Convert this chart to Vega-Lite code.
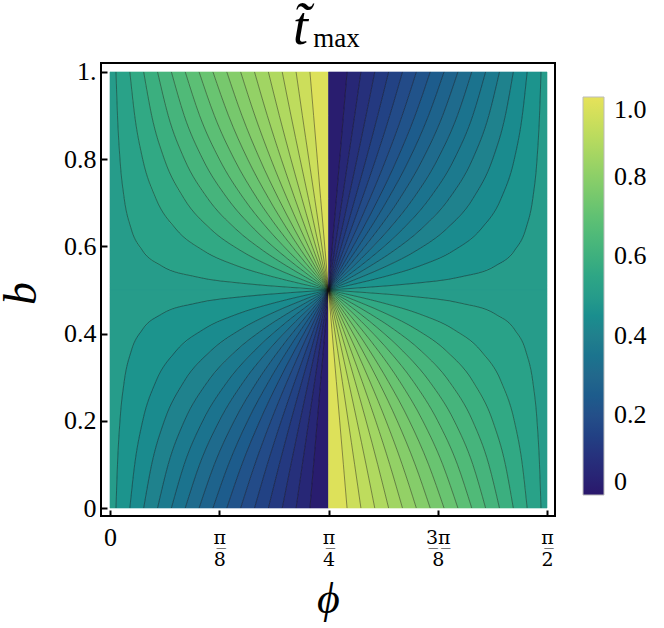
{
"$schema":"https://vega.github.io/schema/vega-lite/v6.json",
"width":454,"height":453,"autosize":"none",
"padding":{"left":101,"top":63,"right":109,"bottom":112},
"background":"white",
"title":{"text":"t\u0303","subtitle":"\u200b\u00a0\u00a0\u00a0max","anchor":"middle","align":"left","dx":-35,"offset":4,"font":"Liberation Serif","fontSize":54,"fontStyle":"italic","fontWeight":"normal","color":"black","subtitleFont":"Liberation Serif","subtitleFontSize":27,"subtitleColor":"black","subtitlePadding":-29},
"datasets":{
"vUL":[{"j":-1,"v":0.5},{"j":0,"v":0.5296},{"j":1,"v":0.5613},{"j":2,"v":0.593},{"j":3,"v":0.6247},{"j":4,"v":0.6564},{"j":5,"v":0.6881},{"j":6,"v":0.7198},{"j":7,"v":0.7515},{"j":8,"v":0.7832},{"j":9,"v":0.8149},{"j":10,"v":0.8466},{"j":11,"v":0.8783},{"j":12,"v":0.91},{"j":13,"v":0.9417},{"j":14,"v":0.9788},{"j":15,"v":1}],
"vLL":[{"j":-1,"v":0.5},{"j":0,"v":0.4704},{"j":1,"v":0.4387},{"j":2,"v":0.407},{"j":3,"v":0.3753},{"j":4,"v":0.3436},{"j":5,"v":0.3119},{"j":6,"v":0.2802},{"j":7,"v":0.2485},{"j":8,"v":0.2168},{"j":9,"v":0.1851},{"j":10,"v":0.1534},{"j":11,"v":0.1217},{"j":12,"v":0.09},{"j":13,"v":0.0583},{"j":14,"v":0.0212},{"j":15,"v":0}],
"vUR":[{"j":15,"v":0.0212},{"j":14,"v":0.0583},{"j":13,"v":0.09},{"j":12,"v":0.1217},{"j":11,"v":0.1534},{"j":10,"v":0.1851},{"j":9,"v":0.2168},{"j":8,"v":0.2485},{"j":7,"v":0.2802},{"j":6,"v":0.3119},{"j":5,"v":0.3436},{"j":4,"v":0.3753},{"j":3,"v":0.407},{"j":2,"v":0.4387},{"j":1,"v":0.4704},{"j":0,"v":0.5},{"j":-1,"v":0.5}],
"vLR":[{"j":15,"v":0.9788},{"j":14,"v":0.9417},{"j":13,"v":0.91},{"j":12,"v":0.8783},{"j":11,"v":0.8466},{"j":10,"v":0.8149},{"j":9,"v":0.7832},{"j":8,"v":0.7515},{"j":7,"v":0.7198},{"j":6,"v":0.6881},{"j":5,"v":0.6564},{"j":4,"v":0.6247},{"j":3,"v":0.593},{"j":2,"v":0.5613},{"j":1,"v":0.5296},{"j":0,"v":0.5},{"j":-1,"v":0.5}],
"UL":[
{"j":-1,"b":1,"p":0},{"j":-1,"b":0.9,"p":0},{"j":-1,"b":0.8,"p":0},{"j":-1,"b":0.71,"p":0},{"j":-1,"b":0.64,"p":0},{"j":-1,"b":0.59,"p":0},{"j":-1,"b":0.555,"p":0},{"j":-1,"b":0.53,"p":0},{"j":-1,"b":0.515,"p":0},{"j":-1,"b":0.506,"p":0},{"j":-1,"b":0.5,"p":0},
{"j":0,"b":1,"p":0.0215},{"j":0,"b":0.9,"p":0.0269},{"j":0,"b":0.8,"p":0.0358},{"j":0,"b":0.71,"p":0.051},{"j":0,"b":0.64,"p":0.0762},{"j":0,"b":0.59,"p":0.1173},{"j":0,"b":0.555,"p":0.1863},{"j":0,"b":0.53,"p":0.3109},{"j":0,"b":0.515,"p":0.4808},{"j":0,"b":0.506,"p":0.6493},{"j":0,"b":0.5,"p":0.7854},
{"j":1,"b":1,"p":0.0713},{"j":1,"b":0.9,"p":0.0888},{"j":1,"b":0.8,"p":0.1175},{"j":1,"b":0.71,"p":0.1647},{"j":1,"b":0.64,"p":0.2369},{"j":1,"b":0.59,"p":0.3367},{"j":1,"b":0.555,"p":0.4585},{"j":1,"b":0.53,"p":0.5875},{"j":1,"b":0.515,"p":0.6824},{"j":1,"b":0.506,"p":0.7437},{"j":1,"b":0.5,"p":0.7854},
{"j":2,"b":1,"p":0.1211},{"j":2,"b":0.9,"p":0.1498},{"j":2,"b":0.8,"p":0.1953},{"j":2,"b":0.71,"p":0.2658},{"j":2,"b":0.64,"p":0.3614},{"j":2,"b":0.59,"p":0.4706},{"j":2,"b":0.555,"p":0.5759},{"j":2,"b":0.53,"p":0.6662},{"j":2,"b":0.515,"p":0.7249},{"j":2,"b":0.506,"p":0.7611},{"j":2,"b":0.5,"p":0.7854},
{"j":3,"b":1,"p":0.1709},{"j":3,"b":0.9,"p":0.2092},{"j":3,"b":0.8,"p":0.2675},{"j":3,"b":0.71,"p":0.3513},{"j":3,"b":0.64,"p":0.4519},{"j":3,"b":0.59,"p":0.5511},{"j":3,"b":0.555,"p":0.6354},{"j":3,"b":0.53,"p":0.7018},{"j":3,"b":0.515,"p":0.7433},{"j":3,"b":0.506,"p":0.7685},{"j":3,"b":0.5,"p":0.7854},
{"j":4,"b":1,"p":0.2207},{"j":4,"b":0.9,"p":0.2667},{"j":4,"b":0.8,"p":0.3335},{"j":4,"b":0.71,"p":0.4221},{"j":4,"b":0.64,"p":0.518},{"j":4,"b":0.59,"p":0.6034},{"j":4,"b":0.555,"p":0.671},{"j":4,"b":0.53,"p":0.7222},{"j":4,"b":0.515,"p":0.7537},{"j":4,"b":0.506,"p":0.7727},{"j":4,"b":0.5,"p":0.7854},
{"j":5,"b":1,"p":0.2705},{"j":5,"b":0.9,"p":0.3221},{"j":5,"b":0.8,"p":0.393},{"j":5,"b":0.71,"p":0.4803},{"j":5,"b":0.64,"p":0.5673},{"j":5,"b":0.59,"p":0.6398},{"j":5,"b":0.555,"p":0.6948},{"j":5,"b":0.53,"p":0.7356},{"j":5,"b":0.515,"p":0.7604},{"j":5,"b":0.506,"p":0.7754},{"j":5,"b":0.5,"p":0.7854},
{"j":6,"b":1,"p":0.3203},{"j":6,"b":0.9,"p":0.3751},{"j":6,"b":0.8,"p":0.4465},{"j":6,"b":0.71,"p":0.5289},{"j":6,"b":0.64,"p":0.6057},{"j":6,"b":0.59,"p":0.6669},{"j":6,"b":0.555,"p":0.7122},{"j":6,"b":0.53,"p":0.7452},{"j":6,"b":0.515,"p":0.7653},{"j":6,"b":0.506,"p":0.7774},{"j":6,"b":0.5,"p":0.7854},
{"j":7,"b":1,"p":0.3701},{"j":7,"b":0.9,"p":0.4259},{"j":7,"b":0.8,"p":0.4948},{"j":7,"b":0.71,"p":0.5703},{"j":7,"b":0.64,"p":0.6367},{"j":7,"b":0.59,"p":0.6881},{"j":7,"b":0.555,"p":0.7255},{"j":7,"b":0.53,"p":0.7526},{"j":7,"b":0.515,"p":0.769},{"j":7,"b":0.506,"p":0.7788},{"j":7,"b":0.5,"p":0.7854},
{"j":8,"b":1,"p":0.4199},{"j":8,"b":0.9,"p":0.4742},{"j":8,"b":0.8,"p":0.5386},{"j":8,"b":0.71,"p":0.6053},{"j":8,"b":0.64,"p":0.6624},{"j":8,"b":0.59,"p":0.7054},{"j":8,"b":0.555,"p":0.7362},{"j":8,"b":0.53,"p":0.7585},{"j":8,"b":0.515,"p":0.772},{"j":8,"b":0.506,"p":0.78},{"j":8,"b":0.5,"p":0.7854},
{"j":9,"b":1,"p":0.4697},{"j":9,"b":0.9,"p":0.5207},{"j":9,"b":0.8,"p":0.5786},{"j":9,"b":0.71,"p":0.6364},{"j":9,"b":0.64,"p":0.6844},{"j":9,"b":0.59,"p":0.72},{"j":9,"b":0.555,"p":0.7452},{"j":9,"b":0.53,"p":0.7634},{"j":9,"b":0.515,"p":0.7744},{"j":9,"b":0.506,"p":0.781},{"j":9,"b":0.5,"p":0.7854},
{"j":10,"b":1,"p":0.5195},{"j":10,"b":0.9,"p":0.5654},{"j":10,"b":0.8,"p":0.6157},{"j":10,"b":0.71,"p":0.6643},{"j":10,"b":0.64,"p":0.7038},{"j":10,"b":0.59,"p":0.7326},{"j":10,"b":0.555,"p":0.7531},{"j":10,"b":0.53,"p":0.7678},{"j":10,"b":0.515,"p":0.7766},{"j":10,"b":0.506,"p":0.7819},{"j":10,"b":0.5,"p":0.7854},
{"j":11,"b":1,"p":0.5693},{"j":11,"b":0.9,"p":0.6086},{"j":11,"b":0.8,"p":0.6503},{"j":11,"b":0.71,"p":0.6897},{"j":11,"b":0.64,"p":0.7212},{"j":11,"b":0.59,"p":0.744},{"j":11,"b":0.555,"p":0.76},{"j":11,"b":0.53,"p":0.7716},{"j":11,"b":0.515,"p":0.7785},{"j":11,"b":0.506,"p":0.7826},{"j":11,"b":0.5,"p":0.7854},
{"j":12,"b":1,"p":0.6191},{"j":12,"b":0.9,"p":0.6505},{"j":12,"b":0.8,"p":0.6832},{"j":12,"b":0.71,"p":0.7134},{"j":12,"b":0.64,"p":0.7372},{"j":12,"b":0.59,"p":0.7543},{"j":12,"b":0.555,"p":0.7664},{"j":12,"b":0.53,"p":0.775},{"j":12,"b":0.515,"p":0.7802},{"j":12,"b":0.506,"p":0.7833},{"j":12,"b":0.5,"p":0.7854},
{"j":13,"b":1,"p":0.6689},{"j":13,"b":0.9,"p":0.6915},{"j":13,"b":0.8,"p":0.7147},{"j":13,"b":0.71,"p":0.7357},{"j":13,"b":0.64,"p":0.7522},{"j":13,"b":0.59,"p":0.764},{"j":13,"b":0.555,"p":0.7724},{"j":13,"b":0.53,"p":0.7783},{"j":13,"b":0.515,"p":0.7818},{"j":13,"b":0.506,"p":0.784},{"j":13,"b":0.5,"p":0.7854},
{"j":14,"b":1,"p":0.7187},{"j":14,"b":0.9,"p":0.7319},{"j":14,"b":0.8,"p":0.7452},{"j":14,"b":0.71,"p":0.7572},{"j":14,"b":0.64,"p":0.7666},{"j":14,"b":0.59,"p":0.7733},{"j":14,"b":0.555,"p":0.778},{"j":14,"b":0.53,"p":0.7814},{"j":14,"b":0.515,"p":0.7834},{"j":14,"b":0.506,"p":0.7846},{"j":14,"b":0.5,"p":0.7854},
{"j":15,"b":1,"p":0.7854},{"j":15,"b":0.9,"p":0.7854},{"j":15,"b":0.8,"p":0.7854},{"j":15,"b":0.71,"p":0.7854},{"j":15,"b":0.64,"p":0.7854},{"j":15,"b":0.59,"p":0.7854},{"j":15,"b":0.555,"p":0.7854},{"j":15,"b":0.53,"p":0.7854},{"j":15,"b":0.515,"p":0.7854},{"j":15,"b":0.506,"p":0.7854},{"j":15,"b":0.5,"p":0.7854}
],
"LL":[
{"j":-1,"b":0,"p":0},{"j":-1,"b":0.1,"p":0},{"j":-1,"b":0.2,"p":0},{"j":-1,"b":0.29,"p":0},{"j":-1,"b":0.36,"p":0},{"j":-1,"b":0.41,"p":0},{"j":-1,"b":0.445,"p":0},{"j":-1,"b":0.47,"p":0},{"j":-1,"b":0.485,"p":0},{"j":-1,"b":0.494,"p":0},{"j":-1,"b":0.5,"p":0},
{"j":0,"b":0,"p":0.0215},{"j":0,"b":0.1,"p":0.0269},{"j":0,"b":0.2,"p":0.0358},{"j":0,"b":0.29,"p":0.051},{"j":0,"b":0.36,"p":0.0762},{"j":0,"b":0.41,"p":0.1173},{"j":0,"b":0.445,"p":0.1863},{"j":0,"b":0.47,"p":0.3109},{"j":0,"b":0.485,"p":0.4808},{"j":0,"b":0.494,"p":0.6493},{"j":0,"b":0.5,"p":0.7854},
{"j":1,"b":0,"p":0.0713},{"j":1,"b":0.1,"p":0.0888},{"j":1,"b":0.2,"p":0.1175},{"j":1,"b":0.29,"p":0.1647},{"j":1,"b":0.36,"p":0.2369},{"j":1,"b":0.41,"p":0.3367},{"j":1,"b":0.445,"p":0.4585},{"j":1,"b":0.47,"p":0.5875},{"j":1,"b":0.485,"p":0.6824},{"j":1,"b":0.494,"p":0.7437},{"j":1,"b":0.5,"p":0.7854},
{"j":2,"b":0,"p":0.1211},{"j":2,"b":0.1,"p":0.1498},{"j":2,"b":0.2,"p":0.1953},{"j":2,"b":0.29,"p":0.2658},{"j":2,"b":0.36,"p":0.3614},{"j":2,"b":0.41,"p":0.4706},{"j":2,"b":0.445,"p":0.5759},{"j":2,"b":0.47,"p":0.6662},{"j":2,"b":0.485,"p":0.7249},{"j":2,"b":0.494,"p":0.7611},{"j":2,"b":0.5,"p":0.7854},
{"j":3,"b":0,"p":0.1709},{"j":3,"b":0.1,"p":0.2092},{"j":3,"b":0.2,"p":0.2675},{"j":3,"b":0.29,"p":0.3513},{"j":3,"b":0.36,"p":0.4519},{"j":3,"b":0.41,"p":0.5511},{"j":3,"b":0.445,"p":0.6354},{"j":3,"b":0.47,"p":0.7018},{"j":3,"b":0.485,"p":0.7433},{"j":3,"b":0.494,"p":0.7685},{"j":3,"b":0.5,"p":0.7854},
{"j":4,"b":0,"p":0.2207},{"j":4,"b":0.1,"p":0.2667},{"j":4,"b":0.2,"p":0.3335},{"j":4,"b":0.29,"p":0.4221},{"j":4,"b":0.36,"p":0.518},{"j":4,"b":0.41,"p":0.6034},{"j":4,"b":0.445,"p":0.671},{"j":4,"b":0.47,"p":0.7222},{"j":4,"b":0.485,"p":0.7537},{"j":4,"b":0.494,"p":0.7727},{"j":4,"b":0.5,"p":0.7854},
{"j":5,"b":0,"p":0.2705},{"j":5,"b":0.1,"p":0.3221},{"j":5,"b":0.2,"p":0.393},{"j":5,"b":0.29,"p":0.4803},{"j":5,"b":0.36,"p":0.5673},{"j":5,"b":0.41,"p":0.6398},{"j":5,"b":0.445,"p":0.6948},{"j":5,"b":0.47,"p":0.7356},{"j":5,"b":0.485,"p":0.7604},{"j":5,"b":0.494,"p":0.7754},{"j":5,"b":0.5,"p":0.7854},
{"j":6,"b":0,"p":0.3203},{"j":6,"b":0.1,"p":0.3751},{"j":6,"b":0.2,"p":0.4465},{"j":6,"b":0.29,"p":0.5289},{"j":6,"b":0.36,"p":0.6057},{"j":6,"b":0.41,"p":0.6669},{"j":6,"b":0.445,"p":0.7122},{"j":6,"b":0.47,"p":0.7452},{"j":6,"b":0.485,"p":0.7653},{"j":6,"b":0.494,"p":0.7774},{"j":6,"b":0.5,"p":0.7854},
{"j":7,"b":0,"p":0.3701},{"j":7,"b":0.1,"p":0.4259},{"j":7,"b":0.2,"p":0.4948},{"j":7,"b":0.29,"p":0.5703},{"j":7,"b":0.36,"p":0.6367},{"j":7,"b":0.41,"p":0.6881},{"j":7,"b":0.445,"p":0.7255},{"j":7,"b":0.47,"p":0.7526},{"j":7,"b":0.485,"p":0.769},{"j":7,"b":0.494,"p":0.7788},{"j":7,"b":0.5,"p":0.7854},
{"j":8,"b":0,"p":0.4199},{"j":8,"b":0.1,"p":0.4742},{"j":8,"b":0.2,"p":0.5386},{"j":8,"b":0.29,"p":0.6053},{"j":8,"b":0.36,"p":0.6624},{"j":8,"b":0.41,"p":0.7054},{"j":8,"b":0.445,"p":0.7362},{"j":8,"b":0.47,"p":0.7585},{"j":8,"b":0.485,"p":0.772},{"j":8,"b":0.494,"p":0.78},{"j":8,"b":0.5,"p":0.7854},
{"j":9,"b":0,"p":0.4697},{"j":9,"b":0.1,"p":0.5207},{"j":9,"b":0.2,"p":0.5786},{"j":9,"b":0.29,"p":0.6364},{"j":9,"b":0.36,"p":0.6844},{"j":9,"b":0.41,"p":0.72},{"j":9,"b":0.445,"p":0.7452},{"j":9,"b":0.47,"p":0.7634},{"j":9,"b":0.485,"p":0.7744},{"j":9,"b":0.494,"p":0.781},{"j":9,"b":0.5,"p":0.7854},
{"j":10,"b":0,"p":0.5195},{"j":10,"b":0.1,"p":0.5654},{"j":10,"b":0.2,"p":0.6157},{"j":10,"b":0.29,"p":0.6643},{"j":10,"b":0.36,"p":0.7038},{"j":10,"b":0.41,"p":0.7326},{"j":10,"b":0.445,"p":0.7531},{"j":10,"b":0.47,"p":0.7678},{"j":10,"b":0.485,"p":0.7766},{"j":10,"b":0.494,"p":0.7819},{"j":10,"b":0.5,"p":0.7854},
{"j":11,"b":0,"p":0.5693},{"j":11,"b":0.1,"p":0.6086},{"j":11,"b":0.2,"p":0.6503},{"j":11,"b":0.29,"p":0.6897},{"j":11,"b":0.36,"p":0.7212},{"j":11,"b":0.41,"p":0.744},{"j":11,"b":0.445,"p":0.76},{"j":11,"b":0.47,"p":0.7716},{"j":11,"b":0.485,"p":0.7785},{"j":11,"b":0.494,"p":0.7826},{"j":11,"b":0.5,"p":0.7854},
{"j":12,"b":0,"p":0.6191},{"j":12,"b":0.1,"p":0.6505},{"j":12,"b":0.2,"p":0.6832},{"j":12,"b":0.29,"p":0.7134},{"j":12,"b":0.36,"p":0.7372},{"j":12,"b":0.41,"p":0.7543},{"j":12,"b":0.445,"p":0.7664},{"j":12,"b":0.47,"p":0.775},{"j":12,"b":0.485,"p":0.7802},{"j":12,"b":0.494,"p":0.7833},{"j":12,"b":0.5,"p":0.7854},
{"j":13,"b":0,"p":0.6689},{"j":13,"b":0.1,"p":0.6915},{"j":13,"b":0.2,"p":0.7147},{"j":13,"b":0.29,"p":0.7357},{"j":13,"b":0.36,"p":0.7522},{"j":13,"b":0.41,"p":0.764},{"j":13,"b":0.445,"p":0.7724},{"j":13,"b":0.47,"p":0.7783},{"j":13,"b":0.485,"p":0.7818},{"j":13,"b":0.494,"p":0.784},{"j":13,"b":0.5,"p":0.7854},
{"j":14,"b":0,"p":0.7187},{"j":14,"b":0.1,"p":0.7319},{"j":14,"b":0.2,"p":0.7452},{"j":14,"b":0.29,"p":0.7572},{"j":14,"b":0.36,"p":0.7666},{"j":14,"b":0.41,"p":0.7733},{"j":14,"b":0.445,"p":0.778},{"j":14,"b":0.47,"p":0.7814},{"j":14,"b":0.485,"p":0.7834},{"j":14,"b":0.494,"p":0.7846},{"j":14,"b":0.5,"p":0.7854},
{"j":15,"b":0,"p":0.7854},{"j":15,"b":0.1,"p":0.7854},{"j":15,"b":0.2,"p":0.7854},{"j":15,"b":0.29,"p":0.7854},{"j":15,"b":0.36,"p":0.7854},{"j":15,"b":0.41,"p":0.7854},{"j":15,"b":0.445,"p":0.7854},{"j":15,"b":0.47,"p":0.7854},{"j":15,"b":0.485,"p":0.7854},{"j":15,"b":0.494,"p":0.7854},{"j":15,"b":0.5,"p":0.7854}
],
"UR":[
{"j":-1,"b":1,"p":1.5708},{"j":-1,"b":0.9,"p":1.5708},{"j":-1,"b":0.8,"p":1.5708},{"j":-1,"b":0.71,"p":1.5708},{"j":-1,"b":0.64,"p":1.5708},{"j":-1,"b":0.59,"p":1.5708},{"j":-1,"b":0.555,"p":1.5708},{"j":-1,"b":0.53,"p":1.5708},{"j":-1,"b":0.515,"p":1.5708},{"j":-1,"b":0.506,"p":1.5708},{"j":-1,"b":0.5,"p":1.5708},
{"j":0,"b":1,"p":1.5493},{"j":0,"b":0.9,"p":1.5439},{"j":0,"b":0.8,"p":1.535},{"j":0,"b":0.71,"p":1.5198},{"j":0,"b":0.64,"p":1.4946},{"j":0,"b":0.59,"p":1.4535},{"j":0,"b":0.555,"p":1.3845},{"j":0,"b":0.53,"p":1.2599},{"j":0,"b":0.515,"p":1.09},{"j":0,"b":0.506,"p":0.9215},{"j":0,"b":0.5,"p":0.7854},
{"j":1,"b":1,"p":1.4995},{"j":1,"b":0.9,"p":1.482},{"j":1,"b":0.8,"p":1.4533},{"j":1,"b":0.71,"p":1.4061},{"j":1,"b":0.64,"p":1.3339},{"j":1,"b":0.59,"p":1.2341},{"j":1,"b":0.555,"p":1.1123},{"j":1,"b":0.53,"p":0.9833},{"j":1,"b":0.515,"p":0.8884},{"j":1,"b":0.506,"p":0.8271},{"j":1,"b":0.5,"p":0.7854},
{"j":2,"b":1,"p":1.4497},{"j":2,"b":0.9,"p":1.421},{"j":2,"b":0.8,"p":1.3755},{"j":2,"b":0.71,"p":1.305},{"j":2,"b":0.64,"p":1.2094},{"j":2,"b":0.59,"p":1.1002},{"j":2,"b":0.555,"p":0.9949},{"j":2,"b":0.53,"p":0.9046},{"j":2,"b":0.515,"p":0.8459},{"j":2,"b":0.506,"p":0.8097},{"j":2,"b":0.5,"p":0.7854},
{"j":3,"b":1,"p":1.3999},{"j":3,"b":0.9,"p":1.3616},{"j":3,"b":0.8,"p":1.3033},{"j":3,"b":0.71,"p":1.2195},{"j":3,"b":0.64,"p":1.1189},{"j":3,"b":0.59,"p":1.0197},{"j":3,"b":0.555,"p":0.9354},{"j":3,"b":0.53,"p":0.869},{"j":3,"b":0.515,"p":0.8275},{"j":3,"b":0.506,"p":0.8023},{"j":3,"b":0.5,"p":0.7854},
{"j":4,"b":1,"p":1.3501},{"j":4,"b":0.9,"p":1.3041},{"j":4,"b":0.8,"p":1.2373},{"j":4,"b":0.71,"p":1.1487},{"j":4,"b":0.64,"p":1.0528},{"j":4,"b":0.59,"p":0.9674},{"j":4,"b":0.555,"p":0.8998},{"j":4,"b":0.53,"p":0.8486},{"j":4,"b":0.515,"p":0.8171},{"j":4,"b":0.506,"p":0.7981},{"j":4,"b":0.5,"p":0.7854},
{"j":5,"b":1,"p":1.3003},{"j":5,"b":0.9,"p":1.2487},{"j":5,"b":0.8,"p":1.1778},{"j":5,"b":0.71,"p":1.0905},{"j":5,"b":0.64,"p":1.0035},{"j":5,"b":0.59,"p":0.931},{"j":5,"b":0.555,"p":0.876},{"j":5,"b":0.53,"p":0.8352},{"j":5,"b":0.515,"p":0.8104},{"j":5,"b":0.506,"p":0.7954},{"j":5,"b":0.5,"p":0.7854},
{"j":6,"b":1,"p":1.2505},{"j":6,"b":0.9,"p":1.1957},{"j":6,"b":0.8,"p":1.1243},{"j":6,"b":0.71,"p":1.0419},{"j":6,"b":0.64,"p":0.9651},{"j":6,"b":0.59,"p":0.9039},{"j":6,"b":0.555,"p":0.8586},{"j":6,"b":0.53,"p":0.8256},{"j":6,"b":0.515,"p":0.8055},{"j":6,"b":0.506,"p":0.7934},{"j":6,"b":0.5,"p":0.7854},
{"j":7,"b":1,"p":1.2007},{"j":7,"b":0.9,"p":1.1449},{"j":7,"b":0.8,"p":1.076},{"j":7,"b":0.71,"p":1.0005},{"j":7,"b":0.64,"p":0.9341},{"j":7,"b":0.59,"p":0.8827},{"j":7,"b":0.555,"p":0.8453},{"j":7,"b":0.53,"p":0.8182},{"j":7,"b":0.515,"p":0.8018},{"j":7,"b":0.506,"p":0.792},{"j":7,"b":0.5,"p":0.7854},
{"j":8,"b":1,"p":1.1509},{"j":8,"b":0.9,"p":1.0966},{"j":8,"b":0.8,"p":1.0322},{"j":8,"b":0.71,"p":0.9655},{"j":8,"b":0.64,"p":0.9084},{"j":8,"b":0.59,"p":0.8654},{"j":8,"b":0.555,"p":0.8346},{"j":8,"b":0.53,"p":0.8123},{"j":8,"b":0.515,"p":0.7988},{"j":8,"b":0.506,"p":0.7908},{"j":8,"b":0.5,"p":0.7854},
{"j":9,"b":1,"p":1.1011},{"j":9,"b":0.9,"p":1.0501},{"j":9,"b":0.8,"p":0.9922},{"j":9,"b":0.71,"p":0.9344},{"j":9,"b":0.64,"p":0.8864},{"j":9,"b":0.59,"p":0.8508},{"j":9,"b":0.555,"p":0.8256},{"j":9,"b":0.53,"p":0.8074},{"j":9,"b":0.515,"p":0.7964},{"j":9,"b":0.506,"p":0.7898},{"j":9,"b":0.5,"p":0.7854},
{"j":10,"b":1,"p":1.0513},{"j":10,"b":0.9,"p":1.0054},{"j":10,"b":0.8,"p":0.9551},{"j":10,"b":0.71,"p":0.9065},{"j":10,"b":0.64,"p":0.867},{"j":10,"b":0.59,"p":0.8382},{"j":10,"b":0.555,"p":0.8177},{"j":10,"b":0.53,"p":0.803},{"j":10,"b":0.515,"p":0.7942},{"j":10,"b":0.506,"p":0.7889},{"j":10,"b":0.5,"p":0.7854},
{"j":11,"b":1,"p":1.0015},{"j":11,"b":0.9,"p":0.9622},{"j":11,"b":0.8,"p":0.9205},{"j":11,"b":0.71,"p":0.8811},{"j":11,"b":0.64,"p":0.8496},{"j":11,"b":0.59,"p":0.8268},{"j":11,"b":0.555,"p":0.8108},{"j":11,"b":0.53,"p":0.7992},{"j":11,"b":0.515,"p":0.7923},{"j":11,"b":0.506,"p":0.7882},{"j":11,"b":0.5,"p":0.7854},
{"j":12,"b":1,"p":0.9517},{"j":12,"b":0.9,"p":0.9203},{"j":12,"b":0.8,"p":0.8876},{"j":12,"b":0.71,"p":0.8574},{"j":12,"b":0.64,"p":0.8336},{"j":12,"b":0.59,"p":0.8165},{"j":12,"b":0.555,"p":0.8044},{"j":12,"b":0.53,"p":0.7958},{"j":12,"b":0.515,"p":0.7906},{"j":12,"b":0.506,"p":0.7875},{"j":12,"b":0.5,"p":0.7854},
{"j":13,"b":1,"p":0.9019},{"j":13,"b":0.9,"p":0.8793},{"j":13,"b":0.8,"p":0.8561},{"j":13,"b":0.71,"p":0.8351},{"j":13,"b":0.64,"p":0.8186},{"j":13,"b":0.59,"p":0.8068},{"j":13,"b":0.555,"p":0.7984},{"j":13,"b":0.53,"p":0.7925},{"j":13,"b":0.515,"p":0.789},{"j":13,"b":0.506,"p":0.7868},{"j":13,"b":0.5,"p":0.7854},
{"j":14,"b":1,"p":0.8521},{"j":14,"b":0.9,"p":0.8389},{"j":14,"b":0.8,"p":0.8256},{"j":14,"b":0.71,"p":0.8136},{"j":14,"b":0.64,"p":0.8042},{"j":14,"b":0.59,"p":0.7975},{"j":14,"b":0.555,"p":0.7928},{"j":14,"b":0.53,"p":0.7894},{"j":14,"b":0.515,"p":0.7874},{"j":14,"b":0.506,"p":0.7862},{"j":14,"b":0.5,"p":0.7854},
{"j":15,"b":1,"p":0.7854},{"j":15,"b":0.9,"p":0.7854},{"j":15,"b":0.8,"p":0.7854},{"j":15,"b":0.71,"p":0.7854},{"j":15,"b":0.64,"p":0.7854},{"j":15,"b":0.59,"p":0.7854},{"j":15,"b":0.555,"p":0.7854},{"j":15,"b":0.53,"p":0.7854},{"j":15,"b":0.515,"p":0.7854},{"j":15,"b":0.506,"p":0.7854},{"j":15,"b":0.5,"p":0.7854}
],
"LR":[
{"j":-1,"b":0,"p":1.5708},{"j":-1,"b":0.1,"p":1.5708},{"j":-1,"b":0.2,"p":1.5708},{"j":-1,"b":0.29,"p":1.5708},{"j":-1,"b":0.36,"p":1.5708},{"j":-1,"b":0.41,"p":1.5708},{"j":-1,"b":0.445,"p":1.5708},{"j":-1,"b":0.47,"p":1.5708},{"j":-1,"b":0.485,"p":1.5708},{"j":-1,"b":0.494,"p":1.5708},{"j":-1,"b":0.5,"p":1.5708},
{"j":0,"b":0,"p":1.5493},{"j":0,"b":0.1,"p":1.5439},{"j":0,"b":0.2,"p":1.535},{"j":0,"b":0.29,"p":1.5198},{"j":0,"b":0.36,"p":1.4946},{"j":0,"b":0.41,"p":1.4535},{"j":0,"b":0.445,"p":1.3845},{"j":0,"b":0.47,"p":1.2599},{"j":0,"b":0.485,"p":1.09},{"j":0,"b":0.494,"p":0.9215},{"j":0,"b":0.5,"p":0.7854},
{"j":1,"b":0,"p":1.4995},{"j":1,"b":0.1,"p":1.482},{"j":1,"b":0.2,"p":1.4533},{"j":1,"b":0.29,"p":1.4061},{"j":1,"b":0.36,"p":1.3339},{"j":1,"b":0.41,"p":1.2341},{"j":1,"b":0.445,"p":1.1123},{"j":1,"b":0.47,"p":0.9833},{"j":1,"b":0.485,"p":0.8884},{"j":1,"b":0.494,"p":0.8271},{"j":1,"b":0.5,"p":0.7854},
{"j":2,"b":0,"p":1.4497},{"j":2,"b":0.1,"p":1.421},{"j":2,"b":0.2,"p":1.3755},{"j":2,"b":0.29,"p":1.305},{"j":2,"b":0.36,"p":1.2094},{"j":2,"b":0.41,"p":1.1002},{"j":2,"b":0.445,"p":0.9949},{"j":2,"b":0.47,"p":0.9046},{"j":2,"b":0.485,"p":0.8459},{"j":2,"b":0.494,"p":0.8097},{"j":2,"b":0.5,"p":0.7854},
{"j":3,"b":0,"p":1.3999},{"j":3,"b":0.1,"p":1.3616},{"j":3,"b":0.2,"p":1.3033},{"j":3,"b":0.29,"p":1.2195},{"j":3,"b":0.36,"p":1.1189},{"j":3,"b":0.41,"p":1.0197},{"j":3,"b":0.445,"p":0.9354},{"j":3,"b":0.47,"p":0.869},{"j":3,"b":0.485,"p":0.8275},{"j":3,"b":0.494,"p":0.8023},{"j":3,"b":0.5,"p":0.7854},
{"j":4,"b":0,"p":1.3501},{"j":4,"b":0.1,"p":1.3041},{"j":4,"b":0.2,"p":1.2373},{"j":4,"b":0.29,"p":1.1487},{"j":4,"b":0.36,"p":1.0528},{"j":4,"b":0.41,"p":0.9674},{"j":4,"b":0.445,"p":0.8998},{"j":4,"b":0.47,"p":0.8486},{"j":4,"b":0.485,"p":0.8171},{"j":4,"b":0.494,"p":0.7981},{"j":4,"b":0.5,"p":0.7854},
{"j":5,"b":0,"p":1.3003},{"j":5,"b":0.1,"p":1.2487},{"j":5,"b":0.2,"p":1.1778},{"j":5,"b":0.29,"p":1.0905},{"j":5,"b":0.36,"p":1.0035},{"j":5,"b":0.41,"p":0.931},{"j":5,"b":0.445,"p":0.876},{"j":5,"b":0.47,"p":0.8352},{"j":5,"b":0.485,"p":0.8104},{"j":5,"b":0.494,"p":0.7954},{"j":5,"b":0.5,"p":0.7854},
{"j":6,"b":0,"p":1.2505},{"j":6,"b":0.1,"p":1.1957},{"j":6,"b":0.2,"p":1.1243},{"j":6,"b":0.29,"p":1.0419},{"j":6,"b":0.36,"p":0.9651},{"j":6,"b":0.41,"p":0.9039},{"j":6,"b":0.445,"p":0.8586},{"j":6,"b":0.47,"p":0.8256},{"j":6,"b":0.485,"p":0.8055},{"j":6,"b":0.494,"p":0.7934},{"j":6,"b":0.5,"p":0.7854},
{"j":7,"b":0,"p":1.2007},{"j":7,"b":0.1,"p":1.1449},{"j":7,"b":0.2,"p":1.076},{"j":7,"b":0.29,"p":1.0005},{"j":7,"b":0.36,"p":0.9341},{"j":7,"b":0.41,"p":0.8827},{"j":7,"b":0.445,"p":0.8453},{"j":7,"b":0.47,"p":0.8182},{"j":7,"b":0.485,"p":0.8018},{"j":7,"b":0.494,"p":0.792},{"j":7,"b":0.5,"p":0.7854},
{"j":8,"b":0,"p":1.1509},{"j":8,"b":0.1,"p":1.0966},{"j":8,"b":0.2,"p":1.0322},{"j":8,"b":0.29,"p":0.9655},{"j":8,"b":0.36,"p":0.9084},{"j":8,"b":0.41,"p":0.8654},{"j":8,"b":0.445,"p":0.8346},{"j":8,"b":0.47,"p":0.8123},{"j":8,"b":0.485,"p":0.7988},{"j":8,"b":0.494,"p":0.7908},{"j":8,"b":0.5,"p":0.7854},
{"j":9,"b":0,"p":1.1011},{"j":9,"b":0.1,"p":1.0501},{"j":9,"b":0.2,"p":0.9922},{"j":9,"b":0.29,"p":0.9344},{"j":9,"b":0.36,"p":0.8864},{"j":9,"b":0.41,"p":0.8508},{"j":9,"b":0.445,"p":0.8256},{"j":9,"b":0.47,"p":0.8074},{"j":9,"b":0.485,"p":0.7964},{"j":9,"b":0.494,"p":0.7898},{"j":9,"b":0.5,"p":0.7854},
{"j":10,"b":0,"p":1.0513},{"j":10,"b":0.1,"p":1.0054},{"j":10,"b":0.2,"p":0.9551},{"j":10,"b":0.29,"p":0.9065},{"j":10,"b":0.36,"p":0.867},{"j":10,"b":0.41,"p":0.8382},{"j":10,"b":0.445,"p":0.8177},{"j":10,"b":0.47,"p":0.803},{"j":10,"b":0.485,"p":0.7942},{"j":10,"b":0.494,"p":0.7889},{"j":10,"b":0.5,"p":0.7854},
{"j":11,"b":0,"p":1.0015},{"j":11,"b":0.1,"p":0.9622},{"j":11,"b":0.2,"p":0.9205},{"j":11,"b":0.29,"p":0.8811},{"j":11,"b":0.36,"p":0.8496},{"j":11,"b":0.41,"p":0.8268},{"j":11,"b":0.445,"p":0.8108},{"j":11,"b":0.47,"p":0.7992},{"j":11,"b":0.485,"p":0.7923},{"j":11,"b":0.494,"p":0.7882},{"j":11,"b":0.5,"p":0.7854},
{"j":12,"b":0,"p":0.9517},{"j":12,"b":0.1,"p":0.9203},{"j":12,"b":0.2,"p":0.8876},{"j":12,"b":0.29,"p":0.8574},{"j":12,"b":0.36,"p":0.8336},{"j":12,"b":0.41,"p":0.8165},{"j":12,"b":0.445,"p":0.8044},{"j":12,"b":0.47,"p":0.7958},{"j":12,"b":0.485,"p":0.7906},{"j":12,"b":0.494,"p":0.7875},{"j":12,"b":0.5,"p":0.7854},
{"j":13,"b":0,"p":0.9019},{"j":13,"b":0.1,"p":0.8793},{"j":13,"b":0.2,"p":0.8561},{"j":13,"b":0.29,"p":0.8351},{"j":13,"b":0.36,"p":0.8186},{"j":13,"b":0.41,"p":0.8068},{"j":13,"b":0.445,"p":0.7984},{"j":13,"b":0.47,"p":0.7925},{"j":13,"b":0.485,"p":0.789},{"j":13,"b":0.494,"p":0.7868},{"j":13,"b":0.5,"p":0.7854},
{"j":14,"b":0,"p":0.8521},{"j":14,"b":0.1,"p":0.8389},{"j":14,"b":0.2,"p":0.8256},{"j":14,"b":0.29,"p":0.8136},{"j":14,"b":0.36,"p":0.8042},{"j":14,"b":0.41,"p":0.7975},{"j":14,"b":0.445,"p":0.7928},{"j":14,"b":0.47,"p":0.7894},{"j":14,"b":0.485,"p":0.7874},{"j":14,"b":0.494,"p":0.7862},{"j":14,"b":0.5,"p":0.7854},
{"j":15,"b":0,"p":0.7854},{"j":15,"b":0.1,"p":0.7854},{"j":15,"b":0.2,"p":0.7854},{"j":15,"b":0.29,"p":0.7854},{"j":15,"b":0.36,"p":0.7854},{"j":15,"b":0.41,"p":0.7854},{"j":15,"b":0.445,"p":0.7854},{"j":15,"b":0.47,"p":0.7854},{"j":15,"b":0.485,"p":0.7854},{"j":15,"b":0.494,"p":0.7854},{"j":15,"b":0.5,"p":0.7854}
]
},
"encoding":{
"x":{"field":"p","type":"quantitative","scale":{"domain":[-0.0324,1.5996],"nice":false,"zero":false},
"axis":{"values":[0,0.3927,0.7854,1.1781,1.5708],"labelExpr":"datum.value < 0.1 ? '0' : datum.value < 0.5 ? ['\u03c0\u0332','8'] : datum.value < 1 ? ['\u03c0\u0332','4'] : datum.value < 1.3 ? ['3\u0332\u03c0\u0332','8'] : ['\u03c0\u0332','2']","labelFont":{"condition":{"test":"datum.value < 0.1","value":"Liberation Serif"},"value":"DejaVu Serif"},"labelFontSize":{"condition":{"test":"datum.value < 0.1","value":26},"value":19},"labelPadding":{"condition":{"test":"datum.value < 0.1","value":14},"value":18},"labelLineHeight":22,"labelBaseline":"top","labelAngle":0,"labelOverlap":false,"labelFlush":false,"title":"\u03d5","titleX":227,"titleY":96,"titleBaseline":"alphabetic","titleAlign":"center","titleAngle":0}},
"y":{"field":"b","type":"quantitative","scale":{"domain":[-0.0183,1.0206],"nice":false,"zero":false},
"axis":{"values":[0,0.2,0.4,0.6,0.8,1],"labelExpr":"datum.value == 1 ? '1.' : datum.value == 0 ? '0' : format(datum.value, '.1f')","labelFontSize":26,"labelPadding":11,"labelOverlap":false,"labelFlush":false,"title":"b","titleX":-66,"titleY":230,"titleAngle":270,"titleBaseline":"alphabetic","titleAlign":"center","titleFontSize":46}}
},
"layer":[
{"data":{"name":"UL"},"transform":[{"lookup":"j","from":{"data":{"name":"vUL"},"key":"j","fields":["v"]}},{"window":[{"op":"lead","field":"p","as":"p2"}],"groupby":["b"],"sort":[{"field":"p","order":"ascending"},{"field":"j","order":"ascending"}]},{"filter":"isValid(datum.p2)"}],
"mark":{"type":"area","orient":"horizontal","interpolate":"monotone","strokeWidth":0.6,"stroke":{"expr":"scale('color', datum.v)"}},
"encoding":{"x":{"field":"p","type":"quantitative","stack":null},"x2":{"field":"p2"},"detail":{"field":"j","type":"nominal"},
"color":{"field":"v","type":"quantitative","scale":{"type":"linear","domain":[0,0.1,0.2,0.3,0.4,0.5,0.6,0.7,0.8,0.9,1],"range":["#2a176b","#26327d","#244f89","#22688c","#21808d","#269c8a","#3eb07e","#60c173","#8ccf68","#badb5e","#e6e25a"]},"legend":{"type":"gradient","orient":"none","legendX":482,"legendY":34,"direction":"vertical","gradientLength":398,"gradientThickness":21,"title":null,"padding":0,"values":[0,0.2,0.4,0.6,0.8,1],"labelExpr":"datum.value == 1 ? '1.0' : datum.value == 0 ? '0' : format(datum.value, '.1f')","labelFont":"Liberation Serif","labelFontSize":26,"labelColor":"black","labelOffset":10,"labelOverlap":false,"labelBaseline":"middle","gradientStrokeColor":"#bbbbbb","gradientStrokeWidth":1}}}},
{"data":{"name":"LL"},"transform":[{"lookup":"j","from":{"data":{"name":"vLL"},"key":"j","fields":["v"]}},{"window":[{"op":"lead","field":"p","as":"p2"}],"groupby":["b"],"sort":[{"field":"p","order":"ascending"},{"field":"j","order":"ascending"}]},{"filter":"isValid(datum.p2)"}],
"mark":{"type":"area","orient":"horizontal","interpolate":"monotone","strokeWidth":0.6,"stroke":{"expr":"scale('color', datum.v)"}},
"encoding":{"x":{"field":"p","type":"quantitative","stack":null},"x2":{"field":"p2"},"detail":{"field":"j","type":"nominal"},
"color":{"field":"v","type":"quantitative","scale":{"type":"linear","domain":[0,0.1,0.2,0.3,0.4,0.5,0.6,0.7,0.8,0.9,1],"range":["#2a176b","#26327d","#244f89","#22688c","#21808d","#269c8a","#3eb07e","#60c173","#8ccf68","#badb5e","#e6e25a"]},"legend":{"type":"gradient","orient":"none","legendX":482,"legendY":34,"direction":"vertical","gradientLength":398,"gradientThickness":21,"title":null,"padding":0,"values":[0,0.2,0.4,0.6,0.8,1],"labelExpr":"datum.value == 1 ? '1.0' : datum.value == 0 ? '0' : format(datum.value, '.1f')","labelFont":"Liberation Serif","labelFontSize":26,"labelColor":"black","labelOffset":10,"labelOverlap":false,"labelBaseline":"middle","gradientStrokeColor":"#bbbbbb","gradientStrokeWidth":1}}}},
{"data":{"name":"UR"},"transform":[{"lookup":"j","from":{"data":{"name":"vUR"},"key":"j","fields":["v"]}},{"window":[{"op":"lead","field":"p","as":"p2"}],"groupby":["b"],"sort":[{"field":"p","order":"ascending"},{"field":"j","order":"descending"}]},{"filter":"isValid(datum.p2)"}],
"mark":{"type":"area","orient":"horizontal","interpolate":"monotone","strokeWidth":0.6,"stroke":{"expr":"scale('color', datum.v)"}},
"encoding":{"x":{"field":"p","type":"quantitative","stack":null},"x2":{"field":"p2"},"detail":{"field":"j","type":"nominal"},
"color":{"field":"v","type":"quantitative","scale":{"type":"linear","domain":[0,0.1,0.2,0.3,0.4,0.5,0.6,0.7,0.8,0.9,1],"range":["#2a176b","#26327d","#244f89","#22688c","#21808d","#269c8a","#3eb07e","#60c173","#8ccf68","#badb5e","#e6e25a"]},"legend":{"type":"gradient","orient":"none","legendX":482,"legendY":34,"direction":"vertical","gradientLength":398,"gradientThickness":21,"title":null,"padding":0,"values":[0,0.2,0.4,0.6,0.8,1],"labelExpr":"datum.value == 1 ? '1.0' : datum.value == 0 ? '0' : format(datum.value, '.1f')","labelFont":"Liberation Serif","labelFontSize":26,"labelColor":"black","labelOffset":10,"labelOverlap":false,"labelBaseline":"middle","gradientStrokeColor":"#bbbbbb","gradientStrokeWidth":1}}}},
{"data":{"name":"LR"},"transform":[{"lookup":"j","from":{"data":{"name":"vLR"},"key":"j","fields":["v"]}},{"window":[{"op":"lead","field":"p","as":"p2"}],"groupby":["b"],"sort":[{"field":"p","order":"ascending"},{"field":"j","order":"descending"}]},{"filter":"isValid(datum.p2)"}],
"mark":{"type":"area","orient":"horizontal","interpolate":"monotone","strokeWidth":0.6,"stroke":{"expr":"scale('color', datum.v)"}},
"encoding":{"x":{"field":"p","type":"quantitative","stack":null},"x2":{"field":"p2"},"detail":{"field":"j","type":"nominal"},
"color":{"field":"v","type":"quantitative","scale":{"type":"linear","domain":[0,0.1,0.2,0.3,0.4,0.5,0.6,0.7,0.8,0.9,1],"range":["#2a176b","#26327d","#244f89","#22688c","#21808d","#269c8a","#3eb07e","#60c173","#8ccf68","#badb5e","#e6e25a"]},"legend":{"type":"gradient","orient":"none","legendX":482,"legendY":34,"direction":"vertical","gradientLength":398,"gradientThickness":21,"title":null,"padding":0,"values":[0,0.2,0.4,0.6,0.8,1],"labelExpr":"datum.value == 1 ? '1.0' : datum.value == 0 ? '0' : format(datum.value, '.1f')","labelFont":"Liberation Serif","labelFontSize":26,"labelColor":"black","labelOffset":10,"labelOverlap":false,"labelBaseline":"middle","gradientStrokeColor":"#bbbbbb","gradientStrokeWidth":1}}}},
{"data":{"name":"UL"},"transform":[{"filter":"datum.j >= 0 && datum.j <= 14"}],"mark":{"type":"line","interpolate":"monotone","color":"#111111","strokeWidth":0.8,"opacity":0.55},"encoding":{"detail":{"field":"j","type":"nominal"}}},
{"data":{"name":"LL"},"transform":[{"filter":"datum.j >= 0 && datum.j <= 14"}],"mark":{"type":"line","interpolate":"monotone","color":"#111111","strokeWidth":0.8,"opacity":0.55},"encoding":{"detail":{"field":"j","type":"nominal"}}},
{"data":{"name":"UR"},"transform":[{"filter":"datum.j >= 0 && datum.j <= 14"}],"mark":{"type":"line","interpolate":"monotone","color":"#111111","strokeWidth":0.8,"opacity":0.55},"encoding":{"detail":{"field":"j","type":"nominal"}}},
{"data":{"name":"LR"},"transform":[{"filter":"datum.j >= 0 && datum.j <= 14"}],"mark":{"type":"line","interpolate":"monotone","color":"#111111","strokeWidth":0.8,"opacity":0.55},"encoding":{"detail":{"field":"j","type":"nominal"}}},
{"data":{"values":[{}]},"mark":{"type":"rule","color":"black","strokeWidth":2.5},"encoding":{"x":{"datum":0.7854},"y":{"datum":0},"y2":{"datum":1}}}
],
"config":{"view":{"stroke":"black","strokeWidth":2},"axis":{"domain":false,"grid":false,"ticks":true,"tickColor":"black","tickWidth":2,"tickSize":-6,"labelFont":"Liberation Serif","labelColor":"black","titleFont":"Liberation Serif","titleFontStyle":"italic","titleFontWeight":"normal","titleColor":"black","titleFontSize":44}}
}
